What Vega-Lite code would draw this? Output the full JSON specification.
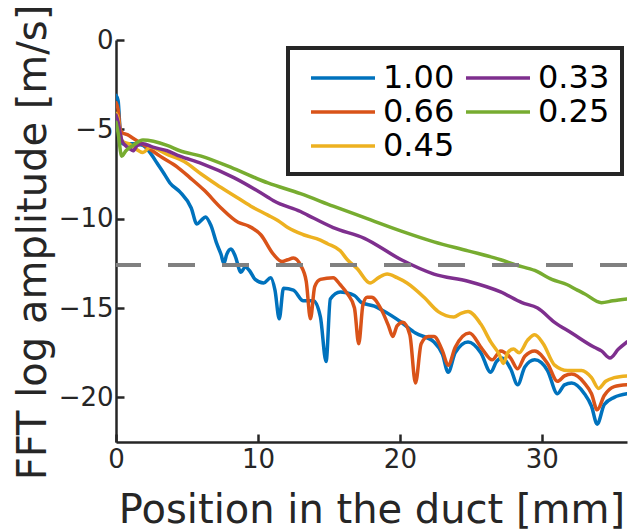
{
  "$schema": "https://vega.github.io/schema/vega-lite/v6.json",
  "width": 511,
  "height": 402,
  "autosize": {"type": "none"},
  "padding": {"left": 116, "top": 40, "right": 3, "bottom": 88},
  "background": "white",
  "config": {
    "view": {"stroke": null},
    "font": "DejaVu Sans",
    "legend": {"strokeWidth": 4},
    "axis": {
      "domainColor": "#262626",
      "domainWidth": 2.5,
      "tickColor": "#262626",
      "tickWidth": 2.5,
      "labelColor": "#262626",
      "labelFont": "DejaVu Sans",
      "labelFontSize": 26,
      "labelFlush": false,
      "titleColor": "#262626",
      "titleFont": "DejaVu Sans",
      "titleFontSize": 40,
      "titleFontWeight": "normal",
      "grid": false
    }
  },
  "datasets": {
    "curves": [
      {"s":"1.00","x":0,"y":-3.1},{"s":"1.00","x":0.15,"y":-3.4},{"s":"1.00","x":0.3,"y":-5.2},{"s":"1.00","x":0.45,"y":-5.8},{"s":"1.00","x":0.8,"y":-5.8},{"s":"1.00","x":1.3,"y":-5.8},{"s":"1.00","x":1.9,"y":-5.9},{"s":"1.00","x":2.4,"y":-6.3},{"s":"1.00","x":2.9,"y":-6.9},{"s":"1.00","x":3.4,"y":-7.5},{"s":"1.00","x":3.8,"y":-8.0},{"s":"1.00","x":4.5,"y":-8.5},{"s":"1.00","x":5.3,"y":-9.4},{"s":"1.00","x":5.7,"y":-10.3},{"s":"1.00","x":6.0,"y":-10.1},{"s":"1.00","x":6.3,"y":-9.9},{"s":"1.00","x":6.7,"y":-10.4},{"s":"1.00","x":7.1,"y":-11.4},{"s":"1.00","x":7.4,"y":-12.0},{"s":"1.00","x":7.6,"y":-12.5},{"s":"1.00","x":7.8,"y":-12.0},{"s":"1.00","x":8.1,"y":-11.7},{"s":"1.00","x":8.4,"y":-12.1},{"s":"1.00","x":8.8,"y":-13.0},{"s":"1.00","x":9.1,"y":-12.7},{"s":"1.00","x":9.4,"y":-12.9},{"s":"1.00","x":9.8,"y":-13.4},{"s":"1.00","x":10.4,"y":-13.6},{"s":"1.00","x":10.9,"y":-13.3},{"s":"1.00","x":11.2,"y":-14.0},{"s":"1.00","x":11.5,"y":-15.6},{"s":"1.00","x":11.8,"y":-13.9},{"s":"1.00","x":12.5,"y":-14.0},{"s":"1.00","x":13.2,"y":-14.6},{"s":"1.00","x":13.9,"y":-14.6},{"s":"1.00","x":14.4,"y":-15.5},{"s":"1.00","x":14.8,"y":-18.0},{"s":"1.00","x":15.1,"y":-14.5},{"s":"1.00","x":15.8,"y":-14.1},{"s":"1.00","x":16.8,"y":-14.3},{"s":"1.00","x":17.3,"y":-14.7},{"s":"1.00","x":18.2,"y":-14.9},{"s":"1.00","x":18.7,"y":-15.1},{"s":"1.00","x":20.1,"y":-15.8},{"s":"1.00","x":21.1,"y":-16.4},{"s":"1.00","x":22.4,"y":-16.9},{"s":"1.00","x":23.0,"y":-17.6},{"s":"1.00","x":23.4,"y":-18.6},{"s":"1.00","x":23.9,"y":-17.5},{"s":"1.00","x":24.8,"y":-16.9},{"s":"1.00","x":25.7,"y":-17.5},{"s":"1.00","x":26.4,"y":-18.6},{"s":"1.00","x":26.8,"y":-18.0},{"s":"1.00","x":27.2,"y":-17.8},{"s":"1.00","x":27.8,"y":-18.4},{"s":"1.00","x":28.3,"y":-19.3},{"s":"1.00","x":28.8,"y":-18.3},{"s":"1.00","x":29.5,"y":-17.9},{"s":"1.00","x":30.4,"y":-18.5},{"s":"1.00","x":31.1,"y":-19.8},{"s":"1.00","x":31.6,"y":-19.3},{"s":"1.00","x":32.1,"y":-19.2},{"s":"1.00","x":33.0,"y":-19.8},{"s":"1.00","x":33.5,"y":-20.5},{"s":"1.00","x":33.9,"y":-21.5},{"s":"1.00","x":34.4,"y":-20.4},{"s":"1.00","x":35.1,"y":-20.0},{"s":"1.00","x":36,"y":-19.8},
      {"s":"0.66","x":0,"y":-3.5},{"s":"0.66","x":0.15,"y":-3.9},{"s":"0.66","x":0.3,"y":-5.0},{"s":"0.66","x":0.45,"y":-5.2},{"s":"0.66","x":0.8,"y":-5.3},{"s":"0.66","x":1.2,"y":-5.5},{"s":"0.66","x":2.2,"y":-6.0},{"s":"0.66","x":3.1,"y":-6.5},{"s":"0.66","x":4.3,"y":-7.1},{"s":"0.66","x":5.2,"y":-7.7},{"s":"0.66","x":6.2,"y":-8.4},{"s":"0.66","x":7.4,"y":-9.4},{"s":"0.66","x":8.6,"y":-10.2},{"s":"0.66","x":9.3,"y":-10.4},{"s":"0.66","x":10.2,"y":-10.9},{"s":"0.66","x":11.1,"y":-12.0},{"s":"0.66","x":11.7,"y":-12.4},{"s":"0.66","x":12.1,"y":-12.3},{"s":"0.66","x":12.5,"y":-12.2},{"s":"0.66","x":13.0,"y":-12.6},{"s":"0.66","x":13.4,"y":-13.5},{"s":"0.66","x":13.7,"y":-15.6},{"s":"0.66","x":14.0,"y":-13.8},{"s":"0.66","x":14.4,"y":-13.4},{"s":"0.66","x":15.3,"y":-13.3},{"s":"0.66","x":15.8,"y":-13.7},{"s":"0.66","x":16.3,"y":-14.2},{"s":"0.66","x":16.8,"y":-15.0},{"s":"0.66","x":17.1,"y":-17.0},{"s":"0.66","x":17.4,"y":-14.8},{"s":"0.66","x":17.7,"y":-14.4},{"s":"0.66","x":18.0,"y":-14.4},{"s":"0.66","x":18.7,"y":-15.1},{"s":"0.66","x":19.2,"y":-16.0},{"s":"0.66","x":19.5,"y":-16.6},{"s":"0.66","x":19.8,"y":-16.0},{"s":"0.66","x":20.2,"y":-15.8},{"s":"0.66","x":20.7,"y":-16.5},{"s":"0.66","x":21.1,"y":-19.2},{"s":"0.66","x":21.5,"y":-17.0},{"s":"0.66","x":22.0,"y":-16.6},{"s":"0.66","x":22.4,"y":-16.6},{"s":"0.66","x":23.0,"y":-17.4},{"s":"0.66","x":23.4,"y":-18.2},{"s":"0.66","x":23.9,"y":-17.2},{"s":"0.66","x":24.9,"y":-16.4},{"s":"0.66","x":25.8,"y":-17.3},{"s":"0.66","x":26.5,"y":-17.9},{"s":"0.66","x":27.1,"y":-17.4},{"s":"0.66","x":27.8,"y":-17.8},{"s":"0.66","x":28.3,"y":-18.4},{"s":"0.66","x":28.8,"y":-17.7},{"s":"0.66","x":29.5,"y":-17.4},{"s":"0.66","x":30.4,"y":-18.1},{"s":"0.66","x":31.1,"y":-19.1},{"s":"0.66","x":31.6,"y":-18.8},{"s":"0.66","x":32.1,"y":-18.7},{"s":"0.66","x":33.0,"y":-19.2},{"s":"0.66","x":33.5,"y":-19.8},{"s":"0.66","x":33.9,"y":-20.7},{"s":"0.66","x":34.4,"y":-19.9},{"s":"0.66","x":35.1,"y":-19.4},{"s":"0.66","x":36,"y":-19.3},
      {"s":"0.45","x":0,"y":-4.1},{"s":"0.45","x":0.15,"y":-4.4},{"s":"0.45","x":0.3,"y":-5.3},{"s":"0.45","x":0.5,"y":-5.7},{"s":"0.45","x":0.9,"y":-5.8},{"s":"0.45","x":1.4,"y":-6.1},{"s":"0.45","x":1.9,"y":-6.3},{"s":"0.45","x":2.4,"y":-6.0},{"s":"0.45","x":3.6,"y":-6.4},{"s":"0.45","x":4.8,"y":-6.8},{"s":"0.45","x":6.0,"y":-7.5},{"s":"0.45","x":7.1,"y":-8.1},{"s":"0.45","x":8.3,"y":-8.7},{"s":"0.45","x":9.5,"y":-9.3},{"s":"0.45","x":10.7,"y":-9.8},{"s":"0.45","x":11.4,"y":-10.1},{"s":"0.45","x":12.1,"y":-10.5},{"s":"0.45","x":13.2,"y":-10.9},{"s":"0.45","x":14.4,"y":-11.2},{"s":"0.45","x":14.9,"y":-11.4},{"s":"0.45","x":15.8,"y":-11.8},{"s":"0.45","x":16.3,"y":-12.3},{"s":"0.45","x":17.0,"y":-12.8},{"s":"0.45","x":17.9,"y":-13.6},{"s":"0.45","x":18.5,"y":-13.3},{"s":"0.45","x":19.1,"y":-13.1},{"s":"0.45","x":19.8,"y":-13.3},{"s":"0.45","x":20.5,"y":-13.6},{"s":"0.45","x":21.7,"y":-14.4},{"s":"0.45","x":22.7,"y":-15.2},{"s":"0.45","x":23.8,"y":-15.5},{"s":"0.45","x":24.3,"y":-15.3},{"s":"0.45","x":24.8,"y":-15.2},{"s":"0.45","x":25.7,"y":-15.9},{"s":"0.45","x":26.4,"y":-16.9},{"s":"0.45","x":27.0,"y":-17.6},{"s":"0.45","x":27.3,"y":-18.1},{"s":"0.45","x":27.6,"y":-17.5},{"s":"0.45","x":28.0,"y":-17.3},{"s":"0.45","x":28.4,"y":-17.5},{"s":"0.45","x":29.0,"y":-16.8},{"s":"0.45","x":29.5,"y":-16.5},{"s":"0.45","x":30.1,"y":-17.0},{"s":"0.45","x":30.9,"y":-18.2},{"s":"0.45","x":31.8,"y":-18.5},{"s":"0.45","x":32.8,"y":-18.5},{"s":"0.45","x":33.5,"y":-18.9},{"s":"0.45","x":34.0,"y":-19.5},{"s":"0.45","x":34.5,"y":-19.1},{"s":"0.45","x":35.1,"y":-18.9},{"s":"0.45","x":36,"y":-18.8},
      {"s":"0.33","x":0,"y":-4.2},{"s":"0.33","x":0.15,"y":-4.6},{"s":"0.33","x":0.4,"y":-5.6},{"s":"0.33","x":0.65,"y":-5.9},{"s":"0.33","x":1.0,"y":-6.1},{"s":"0.33","x":1.2,"y":-6.2},{"s":"0.33","x":1.5,"y":-5.9},{"s":"0.33","x":1.9,"y":-5.8},{"s":"0.33","x":2.6,"y":-6.0},{"s":"0.33","x":3.6,"y":-6.2},{"s":"0.33","x":4.5,"y":-6.5},{"s":"0.33","x":6.0,"y":-6.9},{"s":"0.33","x":8.3,"y":-7.7},{"s":"0.33","x":10.7,"y":-8.8},{"s":"0.33","x":11.1,"y":-9.0},{"s":"0.33","x":13.0,"y":-9.6},{"s":"0.33","x":13.5,"y":-9.8},{"s":"0.33","x":15.3,"y":-10.5},{"s":"0.33","x":17.5,"y":-11.1},{"s":"0.33","x":20.1,"y":-12.3},{"s":"0.33","x":22.4,"y":-13.1},{"s":"0.33","x":24.8,"y":-13.5},{"s":"0.33","x":27.1,"y":-14.1},{"s":"0.33","x":28.6,"y":-14.7},{"s":"0.33","x":29.7,"y":-15.0},{"s":"0.33","x":30.9,"y":-15.8},{"s":"0.33","x":32.1,"y":-16.4},{"s":"0.33","x":33.7,"y":-17.2},{"s":"0.33","x":34.2,"y":-17.4},{"s":"0.33","x":34.8,"y":-17.8},{"s":"0.33","x":35.4,"y":-17.3},{"s":"0.33","x":36,"y":-16.9},
      {"s":"0.25","x":0,"y":-4.6},{"s":"0.25","x":0.15,"y":-5.2},{"s":"0.25","x":0.4,"y":-6.5},{"s":"0.25","x":0.7,"y":-6.2},{"s":"0.25","x":1.2,"y":-5.9},{"s":"0.25","x":1.9,"y":-5.6},{"s":"0.25","x":3.6,"y":-5.9},{"s":"0.25","x":4.5,"y":-6.2},{"s":"0.25","x":6.0,"y":-6.5},{"s":"0.25","x":8.3,"y":-7.2},{"s":"0.25","x":10.7,"y":-8.0},{"s":"0.25","x":13.0,"y":-8.6},{"s":"0.25","x":15.3,"y":-9.3},{"s":"0.25","x":17.7,"y":-10.0},{"s":"0.25","x":20.1,"y":-10.7},{"s":"0.25","x":22.4,"y":-11.3},{"s":"0.25","x":24.8,"y":-11.8},{"s":"0.25","x":27.1,"y":-12.3},{"s":"0.25","x":28.2,"y":-12.6},{"s":"0.25","x":29.5,"y":-12.9},{"s":"0.25","x":30.7,"y":-13.4},{"s":"0.25","x":31.8,"y":-13.7},{"s":"0.25","x":32.5,"y":-14.0},{"s":"0.25","x":33.0,"y":-14.2},{"s":"0.25","x":34.2,"y":-14.7},{"s":"0.25","x":35.0,"y":-14.6},{"s":"0.25","x":36,"y":-14.5}
    ],
    "threshold": [{"level": -12.6}]
  },
  "layer": [
    {
      "data": {"name": "curves"},
      "mark": {"type": "line", "strokeWidth": 3.5, "clip": true, "strokeJoin": "round", "strokeCap": "round", "interpolate": "monotone"},
      "encoding": {
        "x": {
          "field": "x", "type": "quantitative",
          "scale": {"domain": [0, 36], "nice": false, "zero": false},
          "axis": {
            "title": "Position in the duct [mm]",
            "values": [0, 10, 20, 30],
            "tickSize": -8,
            "labelPadding": 12,
            "titleX": 255.5,
            "titleY": 80,
            "titleBaseline": "alphabetic"
          }
        },
        "y": {
          "field": "y", "type": "quantitative",
          "scale": {"domain": [-22.5, 0], "nice": false, "zero": false},
          "axis": {
            "title": "FFT log amplitude [m/s]",
            "values": [-20, -15, -10, -5, 0],
            "tickSize": -8,
            "labelPadding": 11,
            "titleX": -71,
            "titleY": 202,
            "titleAngle": -90,
            "titleBaseline": "alphabetic"
          }
        },
        "color": {
          "field": "s", "type": "nominal",
          "scale": {
            "domain": ["1.00", "0.66", "0.45", "0.33", "0.25"],
            "range": ["#0072BD", "#D95319", "#EDB120", "#7E2F8E", "#77AC30"]
          },
          "legend": {
            "title": null,
            "orient": "none",
            "legendX": 172,
            "legendY": 8,
            "columns": 2,
            "symbolType": "M-0.4375,0L3.5625,0",
            "symbolSize": 1024,
            "symbolStrokeWidth": 3.5,
            "labelFont": "DejaVu Sans",
            "labelFontSize": 32,
            "labelColor": "black",
            "labelOffset": 47,
            "labelLimit": 300,
            "strokeColor": "#262626",
            "fillColor": "white",
            "padding": 12,
            "columnPadding": -12,
            "rowPadding": -3,
            "encode": {"legend": {"update": {"strokeWidth": {"value": 4}}}}
          }
        }
      }
    },
    {
      "data": {"name": "threshold"},
      "mark": {"type": "rule", "strokeDash": [27, 27], "strokeWidth": 4, "color": "#808080"},
      "encoding": {"y": {"field": "level", "type": "quantitative"}}
    }
  ]
}
